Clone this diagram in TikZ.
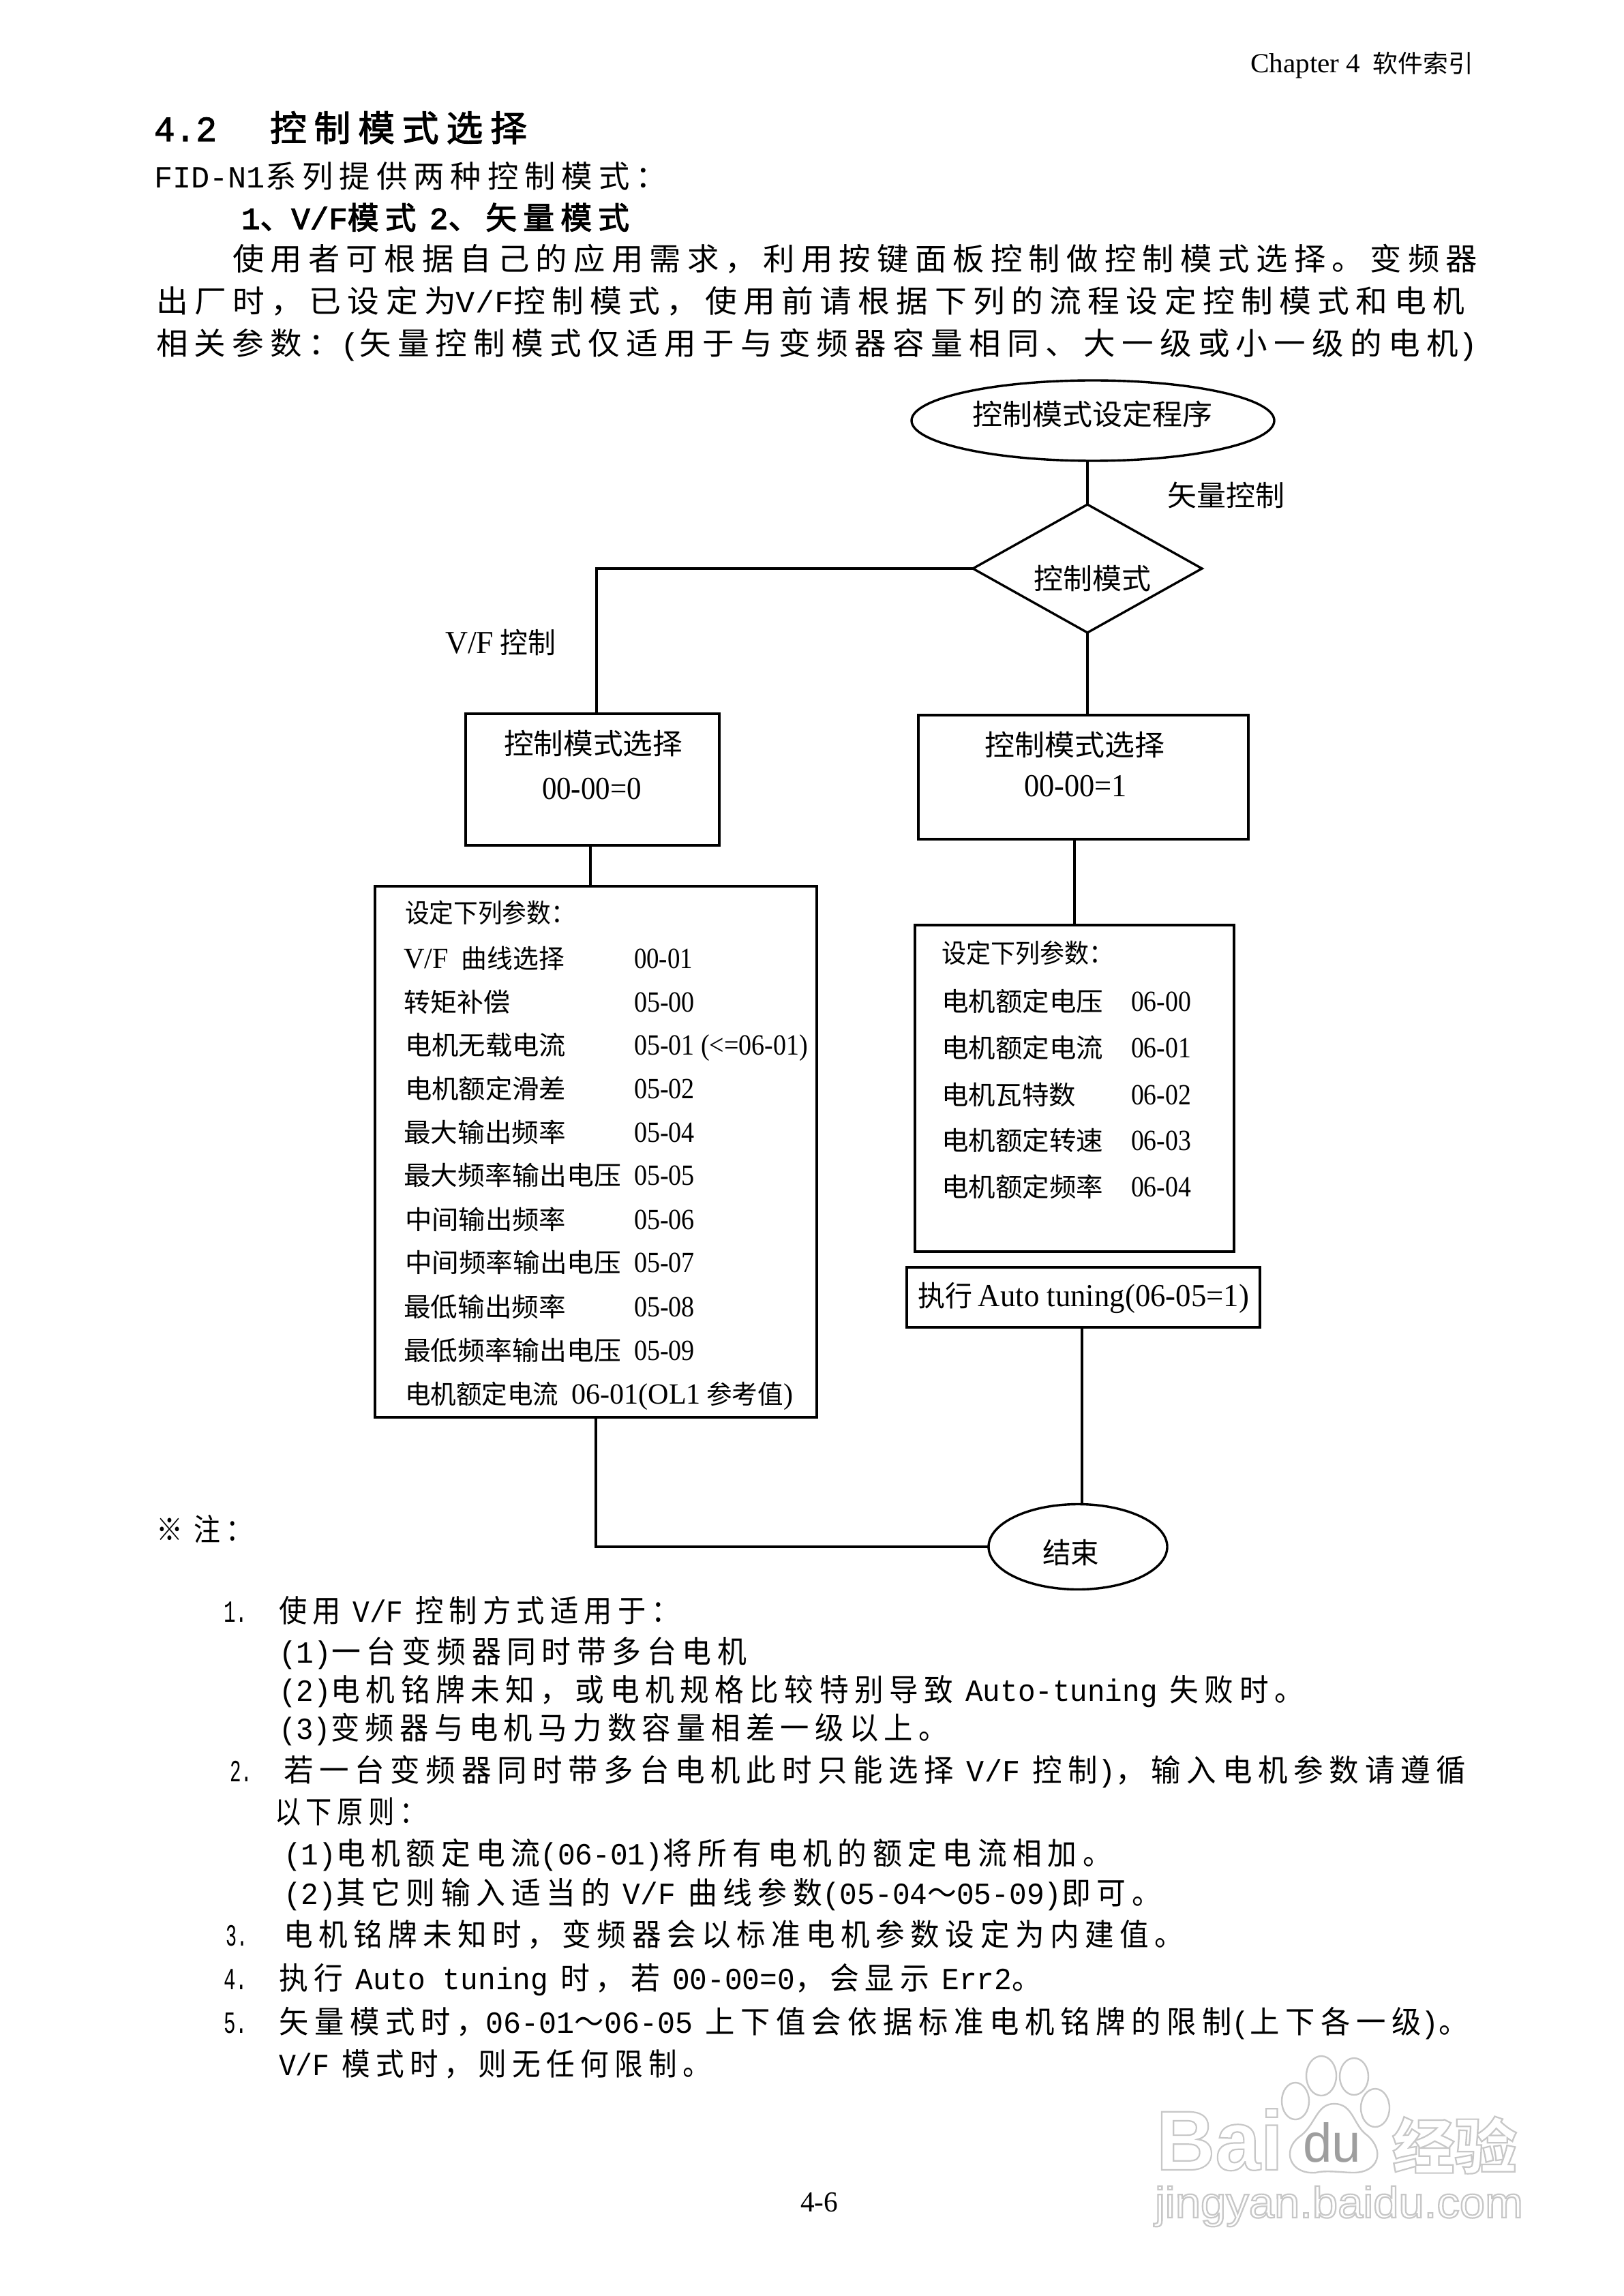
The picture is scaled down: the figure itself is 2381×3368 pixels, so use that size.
\documentclass[tikz,border=0pt]{standalone}
\usepackage{fontspec}
\usepackage{graphicx}
\usetikzlibrary{shapes.geometric,calc}
\setmainfont{Liberation Serif}
\newfontfamily\cjb[LetterSpace=20]{Noto Sans CJK SC}
\newfontfamily\cjt{Noto Sans CJK SC}
\newfontfamily\serb{Liberation Mono}
\newfontfamily\sert[Scale=1.12]{Liberation Serif}
\newfontfamily\wmf{Liberation Sans}
\newdimen\pxu \pxu=.25pt
\newcount\tn
\newcommand\Fb{\fontsize{11.3pt}{13pt}\selectfont\cjb}
\newcommand\Fh{\fontsize{13pt}{15pt}\selectfont\cjb}
\newcommand\Ff{\fontsize{10.5pt}{12pt}\selectfont\cjt}
\newcommand\Ft{\fontsize{9.6pt}{11pt}\selectfont\cjt}
\newcommand\en[1]{{\serb #1}}
\newcommand\la[1]{{\sert #1}}
\newcommand\hollow[1]{\special{pdf:code 1 Tr 0.55 w}#1\special{pdf:code 0 Tr 1 w}}
\newcommand\heavy[1]{\special{pdf:code 2 Tr 0.28 w}#1\special{pdf:code 0 Tr 1 w}}
\newcommand\T[4]{\global\advance\tn by 1\relax
  \node[txt] (t\the\tn) at (#1,#2) {\resizebox{#3\pxu}{\height}{#4}};}
\tikzset{
  txt/.style={inner sep=0pt,outer sep=0pt,anchor=base west,text=black},
  shp/.style={draw=black,line width=.85pt,inner sep=0pt,outer sep=0pt,fill=white},
  link/.style={draw=black,line width=.85pt},
  paw/.style={draw=black!22,line width=.6pt,fill=white}
}
\begin{document}
\begin{tikzpicture}[x=.25pt,y=-.25pt]
\useasboundingbox (0,0) rectangle (2381,3368);
\fill[white] (0,0) rectangle (2381,3368);
% watermark
\T{1696}{3183}{186}{\fontsize{31pt}{33pt}\selectfont\wmf\bfseries\color{black!22}\hollow{Bai}}
\draw[paw] (1900,3082) ellipse (20 and 27);
\draw[paw] (1938,3045) ellipse (22 and 29);
\draw[paw] (1986,3046) ellipse (21 and 27);
\draw[paw] (1957,3086) .. controls (1985,3086) and (1985,3118) .. (2005,3132) .. controls (2032,3155) and (2022,3187) .. (1985,3187) .. controls (1970,3187) and (1945,3183) .. (1930,3187) .. controls (1892,3190) and (1880,3155) .. (1905,3135) .. controls (1930,3118) and (1930,3086) .. (1957,3086) -- cycle;
\draw[paw] (2017,3092) ellipse (21 and 28);
\T{1911}{3171}{85}{\fontsize{20pt}{22pt}\selectfont\wmf\color{black!38}du}
\T{2042}{3181}{183}{\fontsize{22pt}{24pt}\selectfont\cjt\bfseries\color{black!22}\hollow{经验}}
\T{1694}{3253}{540}{\fontsize{16pt}{18pt}\selectfont\wmf\color{black!22}\hollow{jingyan.baidu.com}}
% shapes
\node[shp,ellipse,minimum width=133pt,minimum height=29.5pt] (start) at (1603,617) {};
\node[shp,diamond,aspect=1.79,minimum width=84pt,minimum height=47pt] (mode) at (1595,834) {};
\node[shp,minimum width=93pt,minimum height=48.25pt] (boxL) at (869,1143.5) {};
\node[shp,minimum width=121pt,minimum height=45.5pt] (boxR) at (1589,1140) {};
\node[shp,minimum width=162pt,minimum height=194.75pt] (tabL) at (874,1689.5) {};
\node[shp,minimum width=117pt,minimum height=119.75pt] (tabR) at (1576,1596.5) {};
\node[shp,minimum width=129.5pt,minimum height=22pt] (auto) at (1589,1903) {};
\node[shp,ellipse,minimum width=65.5pt,minimum height=31.25pt] (finish) at (1581,2269) {};
% connectors
\draw[link] (mode.north |- start.south) -- (mode.north);
\draw[link] (mode.west) -| ([xshift=1.5pt]boxL.north);
\draw[link] (mode.south) -- (mode.south |- boxR.north);
\draw[link] ([xshift=-.75pt]boxL.south) -- ([xshift=-.75pt]boxL.south |- tabL.north);
\draw[link] (tabR.north |- boxR.south) -- (tabR.north);
\draw[link] ([xshift=-.5pt]auto.south) -- ([xshift=-.5pt]auto.south |- finish.north);
\draw[link] (tabL.south) |- (finish.west);
% header and body
\T{1834}{107}{327}{\fontsize{9pt}{11pt}\selectfont\la{Chapter 4}\hspace{.5em}\cjt 软件索引}
\T{226}{207}{92}{\Fh\heavy{\en{4.2}}}
\T{396}{207}{377}{\Fh\heavy{控制模式选择}}
\T{226}{276}{752}{\Fb\en{FID-N1}系列提供两种控制模式：}
\T{354}{336}{569}{\Fb\heavy{\en{1}、\en{V/F}模式 \en{2}、矢量模式}}
\T{341}{397}{1826}{\Fb 使用者可根据自己的应用需求，利用按键面板控制做控制模式选择。变频器}
\T{229}{459}{1919}{\Fb 出厂时，已设定为\en{V/F}控制模式，使用前请根据下列的流程设定控制模式和电机}
\T{229}{521}{1938}{\Fb 相关参数：\en{(}矢量控制模式仅适用于与变频器容量相同、大一级或小一级的电机\en{)}}
% flow labels
\T{1426}{624}{352}{\Ff 控制模式设定程序}
\T{1712}{743}{172}{\Ff 矢量控制}
\T{1516}{864}{172}{\Ff 控制模式}
\T{653}{958}{162}{\Ff\la{V/F} 控制}
\T{739}{1106}{262}{\Ff 控制模式选择}
\T{795}{1172}{146}{\Ff\la{00-00=0}}
\T{1444}{1108}{264}{\Ff 控制模式选择}
\T{1502}{1168}{151}{\Ff\la{00-00=1}}
% left table
\T{594}{1353}{250}{\Ft 设定下列参数：}
\T{592}{1420}{236}{\Ft\la{V/F}\hspace{.5em}曲线选择}
\T{930}{1420}{86}{\Ft\la{00-01}}
\T{592}{1484}{156}{\Ft 转矩补偿}
\T{930}{1484}{89}{\Ft\la{05-00}}
\T{594}{1547}{236}{\Ft 电机无载电流}
\T{930}{1547}{255}{\Ft\la{05-01 (<=06-01)}}
\T{594}{1611}{236}{\Ft 电机额定滑差}
\T{930}{1611}{89}{\Ft\la{05-02}}
\T{592}{1675}{238}{\Ft 最大输出频率}
\T{930}{1675}{89}{\Ft\la{05-04}}
\T{592}{1738}{319}{\Ft 最大频率输出电压}
\T{930}{1738}{89}{\Ft\la{05-05}}
\T{594}{1803}{236}{\Ft 中间输出频率}
\T{930}{1803}{89}{\Ft\la{05-06}}
\T{594}{1866}{317}{\Ft 中间频率输出电压}
\T{930}{1866}{89}{\Ft\la{05-07}}
\T{592}{1931}{238}{\Ft 最低输出频率}
\T{930}{1931}{89}{\Ft\la{05-08}}
\T{592}{1995}{319}{\Ft 最低频率输出电压}
\T{930}{1995}{89}{\Ft\la{05-09}}
\T{594}{2059}{569}{\Ft 电机额定电流\hspace{.5em}\la{06-01(OL1} 参考值\la{)}}
% right table
\T{1381}{1412}{252}{\Ft 设定下列参数：}
\T{1381}{1483}{237}{\Ft 电机额定电压}
\T{1659}{1483}{88}{\Ft\la{06-00}}
\T{1381}{1551}{237}{\Ft 电机额定电流}
\T{1659}{1551}{88}{\Ft\la{06-01}}
\T{1381}{1620}{197}{\Ft 电机瓦特数}
\T{1659}{1620}{88}{\Ft\la{06-02}}
\T{1381}{1687}{237}{\Ft 电机额定转速}
\T{1659}{1687}{88}{\Ft\la{06-03}}
\T{1381}{1755}{237}{\Ft 电机额定频率}
\T{1659}{1755}{88}{\Ft\la{06-04}}
\T{1346}{1916}{486}{\Ff 执行 \la{Auto tuning(06-05=1)}}
\T{1529}{2293}{83}{\Ff 结束}
% notes
\T{229}{2260}{141}{\Fb ※ 注：}
\T{328}{2379}{35}{\Fb\en{1.}}
\T{409}{2379}{588}{\Fb 使用 \en{V/F} 控制方式适用于：}
\T{409}{2439}{686}{\Fb\en{(1)}一台变频器同时带多台电机}
\T{409}{2495}{1503}{\Fb\en{(2)}电机铭牌未知，或电机规格比较特别导致 \en{Auto-tuning} 失败时。}
\T{409}{2551}{981}{\Fb\en{(3)}变频器与电机马力数容量相差一级以上。}
\T{337}{2613}{33}{\Fb\en{2.}}
\T{416}{2613}{1734}{\Fb 若一台变频器同时带多台电机此时只能选择 \en{V/F} 控制\en{)}，输入电机参数请遵循}
\T{403}{2674}{222}{\Fb 以下原则：}
\T{416}{2735}{1215}{\Fb\en{(1)}电机额定电流\en{(06-01)}将所有电机的额定电流相加。}
\T{416}{2793}{1287}{\Fb\en{(2)}其它则输入适当的 \en{V/F} 曲线参数\en{(05-04}～\en{05-09)}即可。}
\T{331}{2854}{32}{\Fb\en{3.}}
\T{416}{2854}{1320}{\Fb 电机铭牌未知时，变频器会以标准电机参数设定为内建值。}
\T{328}{2918}{35}{\Fb\en{4.}}
\T{409}{2918}{1118}{\Fb 执行 \en{Auto tuning} 时，若 \en{00-00=0}，会显示 \en{Err2}。}
\T{328}{2982}{35}{\Fb\en{5.}}
\T{409}{2982}{1745}{\Fb 矢量模式时，\en{06-01}～\en{06-05} 上下值会依据标准电机铭牌的限制\en{(}上下各一级\en{)}。}
\T{409}{3044}{634}{\Fb\en{V/F} 模式时，则无任何限制。}
\T{1174}{3244}{55}{\fontsize{9.5pt}{11pt}\selectfont\la{4-6}}
\end{tikzpicture}
\end{document}
